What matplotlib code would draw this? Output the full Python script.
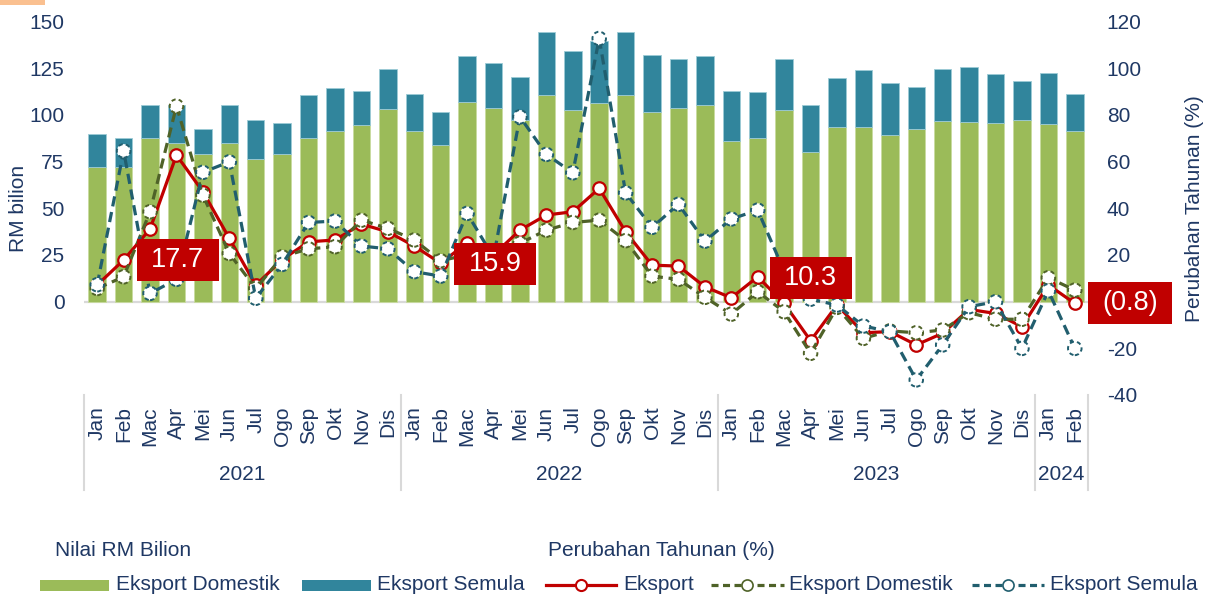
import matplotlib
matplotlib.use('Agg')
import matplotlib.pyplot as plt
import matplotlib.transforms as mtransforms
from matplotlib.patches import Rectangle
from matplotlib.lines import Line2D
import numpy as np

plt.rcParams['font.family'] = ['Liberation Sans', 'DejaVu Sans']
plt.rcParams['axes.unicode_minus'] = False

# ---------------- data ----------------
month_labels = ['Jan', 'Feb', 'Mac', 'Apr', 'Mei', 'Jun', 'Jul', 'Ogo', 'Sep', 'Okt', 'Nov', 'Dis'] * 3 + ['Jan', 'Feb']
years = ['2021', '2022', '2023', '2024']
year_spans = [(0, 11), (12, 23), (24, 35), (36, 37)]

# RM bilion
eksport_domestik = [72.3, 72.0, 87.5, 85.2, 78.9, 84.8, 76.6, 79.1, 87.8, 91.4, 94.5, 103.2,
                    91.4, 83.9, 107.0, 103.6, 97.3, 110.6, 102.5, 106.6, 110.6, 101.8, 103.6, 105.4,
                    86.1, 87.5, 102.7, 80.3, 93.7, 93.7, 89.3, 92.3, 96.8, 96.4, 95.9, 97.3,
                    95.0, 91.4]
eksport_semula = [17.4, 15.8, 17.9, 20.2, 13.6, 20.6, 20.7, 16.4, 23.1, 23.1, 18.2, 21.3,
                  19.7, 17.9, 24.6, 24.1, 23.2, 33.7, 31.8, 32.9, 33.7, 30.4, 26.2, 26.4,
                  26.8, 25.0, 27.1, 25.1, 26.0, 30.4, 27.7, 22.9, 27.7, 29.5, 26.1, 21.1,
                  27.4, 19.9]

# Perubahan tahunan (%)
pt_eksport = [7.1, 17.8, 31.1, 62.8, 47.1, 27.1, 7.0, 18.0, 25.6, 26.4, 33.2, 29.9,
              23.8, 16.4, 25.2, 20.0, 30.6, 37.1, 38.5, 48.5, 29.9, 15.6, 15.2, 6.3,
              1.6, 10.6, -0.8, -16.8, -1.5, -13.4, -12.9, -18.6, -13.6, -3.4, -5.1, -10.8,
              7.1, -0.8]
pt_domestik = [5.6, 10.6, 38.5, 83.8, 45.6, 20.6, 5.6, 19.2, 22.6, 23.5, 34.9, 31.4,
               26.4, 17.5, 20.0, 18.0, 25.0, 30.6, 33.9, 34.9, 26.1, 10.9, 9.5, 1.8,
               -5.4, 4.2, -4.4, -22.2, -2.5, -15.8, -12.6, -13.4, -12.2, -4.8, -7.6, -7.6,
               10.2, 4.9]
pt_semula = [7.2, 64.6, 3.5, 9.5, 55.4, 59.9, 1.4, 15.9, 33.9, 34.5, 23.8, 22.6,
             12.8, 10.9, 37.8, 19.0, 79.2, 63.1, 55.2, 112.8, 46.6, 31.8, 41.7, 25.9,
             35.4, 39.2, 13.0, 1.0, -1.5, -10.5, -12.9, -33.6, -18.6, -2.2, -0.1, -20.1,
             4.6, -20.1]

# annual growth call-outs (value, x position)
callout_values = [17.7, 15.9, 10.3, -0.8]
callout_texts = ['17.7', '15.9', '10.3', '(0.8)']
callout_x = [3.05, 15.05, 27.0, 39.1]

# ---------------- styling ----------------
NAVY = '#1F3864'
GREEN = '#9BBB59'
TEAL = '#31859C'
RED = '#C00000'
OLIVE = '#4F6228'
DTEAL = '#215E6E'
GRID = '#D9D9D9'
FS = 15

W, H = 1205, 595
fig = plt.figure(figsize=(W / 100, H / 100), dpi=100)
ax_l, ax_r, ax_t, ax_b = 84, 1088, 21.7, 394.8
ax1 = fig.add_axes([ax_l / W, 1 - ax_b / H, (ax_r - ax_l) / W, (ax_b - ax_t) / H])
ax2 = ax1.twinx()

x = np.arange(len(month_labels))

# bars
ax1.bar(x, eksport_domestik, width=0.66, color=GREEN, edgecolor='#C9DBA0', linewidth=0.6, zorder=2)
ax1.bar(x, eksport_semula, width=0.66, bottom=eksport_domestik, color=TEAL,
        edgecolor='#9CCBD6', linewidth=0.6, zorder=2)
ax1.axhline(0, color=GRID, lw=1.6, zorder=1)

ax1.set_xlim(-0.5, len(x) - 0.5)
ax1.set_ylim(-50, 150)
ax1.set_yticks(np.arange(0, 151, 25))
ax2.set_ylim(-40, 120)
ax2.set_yticks(np.arange(-40, 121, 20))

# lines
ax2.plot(x, pt_eksport, color=RED, lw=2.3, marker='o', ms=9, mfc='white', mec=RED, mew=1.6, zorder=1.5)
ax2.plot(x, pt_domestik, color=OLIVE, lw=2.3, ls=(0, (3.2, 1.8)), zorder=1.6)
ax2.scatter(x, pt_domestik, s=95, facecolor='white', edgecolor=OLIVE, linewidths=1.4,
            linestyle=(0, (2.2, 1.6)), zorder=1.65)
ax2.plot(x, pt_semula, color=DTEAL, lw=2.3, ls=(0, (3.2, 1.8)), zorder=1.7)
ax2.scatter(x, pt_semula, s=95, facecolor='white', edgecolor=DTEAL, linewidths=1.4,
            linestyle=(0, (2.2, 1.6)), zorder=1.75)

# call-out boxes
for val, txt, xc in zip(callout_values, callout_texts, callout_x):
    bw = 0.84 if txt.startswith('(') else 0.82
    tr = fig.dpi_scale_trans + mtransforms.ScaledTranslation(xc, val, ax2.transData)
    rect = Rectangle((-bw / 2, -0.21), bw, 0.42, transform=tr, facecolor=RED,
                     edgecolor='none', zorder=2, clip_on=False)
    ax2.add_artist(rect)
    ax2.text(xc, val, txt, color='white', fontsize=19.5, ha='center', va='center',
             zorder=2.1, clip_on=False)

# axes cosmetics
for a in (ax1, ax2):
    for s in a.spines.values():
        s.set_visible(False)
ax1.tick_params(axis='y', length=0, pad=14, labelsize=FS, labelcolor=NAVY)
ax2.tick_params(axis='y', length=0, pad=13.5, labelsize=FS, labelcolor=NAVY)
ax1.set_xticks(x)
ax1.set_xticklabels(month_labels, rotation=90, fontsize=FS, color=NAVY)
ax1.tick_params(axis='x', length=0, pad=8.5)

ax1.set_ylabel('RM bilion', fontsize=FS, color=NAVY)
ax1.yaxis.set_label_coords((28 - ax_l) / (ax_r - ax_l), 0.5)
ax2.set_ylabel('Perubahan Tahunan (%)', fontsize=FS, color=NAVY)
ax2.yaxis.set_label_coords((1185 - ax_l) / (ax_r - ax_l), 0.5)

# multi-level category axis
ax_h = ax_b - ax_t
blend = mtransforms.blended_transform_factory(ax1.transData, ax1.transAxes)
sep_bottom = -(490 - ax_b) / ax_h
for sx in [-0.5, 11.5, 23.5, 35.5, 37.5]:
    ax1.plot([sx, sx], [0, sep_bottom], color=GRID, lw=1.5, transform=blend, clip_on=False)
for yr, (a, b) in zip(years, year_spans):
    ax1.text((a + b) / 2, -(475 - ax_b) / ax_h, yr, transform=blend, ha='center', va='center',
             fontsize=FS, color=NAVY)

# ---------------- legend (manual) ----------------
def fx(px):
    return px / W

def fy(py):
    return 1 - py / H

fig.text(fx(55), fy(551), 'Nilai RM Bilion', fontsize=FS, color=NAVY, va='center', ha='left')
fig.text(fx(548), fy(551), 'Perubahan Tahunan (%)', fontsize=FS, color=NAVY, va='center', ha='left')

ly = 585
fig.patches.append(Rectangle((fx(40), fy(591)), fx(109) - fx(40), (591 - 580) / H,
                             transform=fig.transFigure, facecolor=GREEN, edgecolor='none'))
fig.text(fx(116), fy(ly), 'Eksport Domestik', fontsize=FS, color=NAVY, va='center', ha='left')
fig.patches.append(Rectangle((fx(302), fy(591)), fx(371) - fx(302), (591 - 580) / H,
                             transform=fig.transFigure, facecolor=TEAL, edgecolor='none'))
fig.text(fx(377), fy(ly), 'Eksport Semula', fontsize=FS, color=NAVY, va='center', ha='left')

fig.lines.append(Line2D([fx(546), fx(616)], [fy(ly), fy(ly)], transform=fig.transFigure,
                        color=RED, lw=2.3))
fig.lines.append(Line2D([fx(581)], [fy(ly)], transform=fig.transFigure, color=RED,
                        marker='o', ms=8, mfc='white', mec=RED, mew=1.5, ls='none'))
fig.text(fx(623), fy(ly), 'Eksport', fontsize=FS, color=NAVY, va='center', ha='left')

fig.lines.append(Line2D([fx(711), fx(784)], [fy(ly), fy(ly)], transform=fig.transFigure,
                        color=OLIVE, lw=2.3, ls=(0, (2.2, 1.4))))
fig.lines.append(Line2D([fx(747)], [fy(ly)], transform=fig.transFigure, color=OLIVE,
                        marker='o', ms=8, mfc='white', mec=OLIVE, mew=1.2, ls='none'))
fig.text(fx(789), fy(ly), 'Eksport Domestik', fontsize=FS, color=NAVY, va='center', ha='left')

fig.lines.append(Line2D([fx(972), fx(1044)], [fy(ly), fy(ly)], transform=fig.transFigure,
                        color=DTEAL, lw=2.3, ls=(0, (2.2, 1.4))))
fig.lines.append(Line2D([fx(1008)], [fy(ly)], transform=fig.transFigure, color=DTEAL,
                        marker='o', ms=8, mfc='white', mec=DTEAL, mew=1.2, ls='none'))
fig.text(fx(1050), fy(ly), 'Eksport Semula', fontsize=FS, color=NAVY, va='center', ha='left')

# orange accent at top-left (title banner remnant)
fig.patches.append(Rectangle((0, fy(5)), fx(45), 5 / H, transform=fig.transFigure,
                             facecolor='#FAC090', edgecolor='none'))

fig.savefig('out.png', dpi=100)
